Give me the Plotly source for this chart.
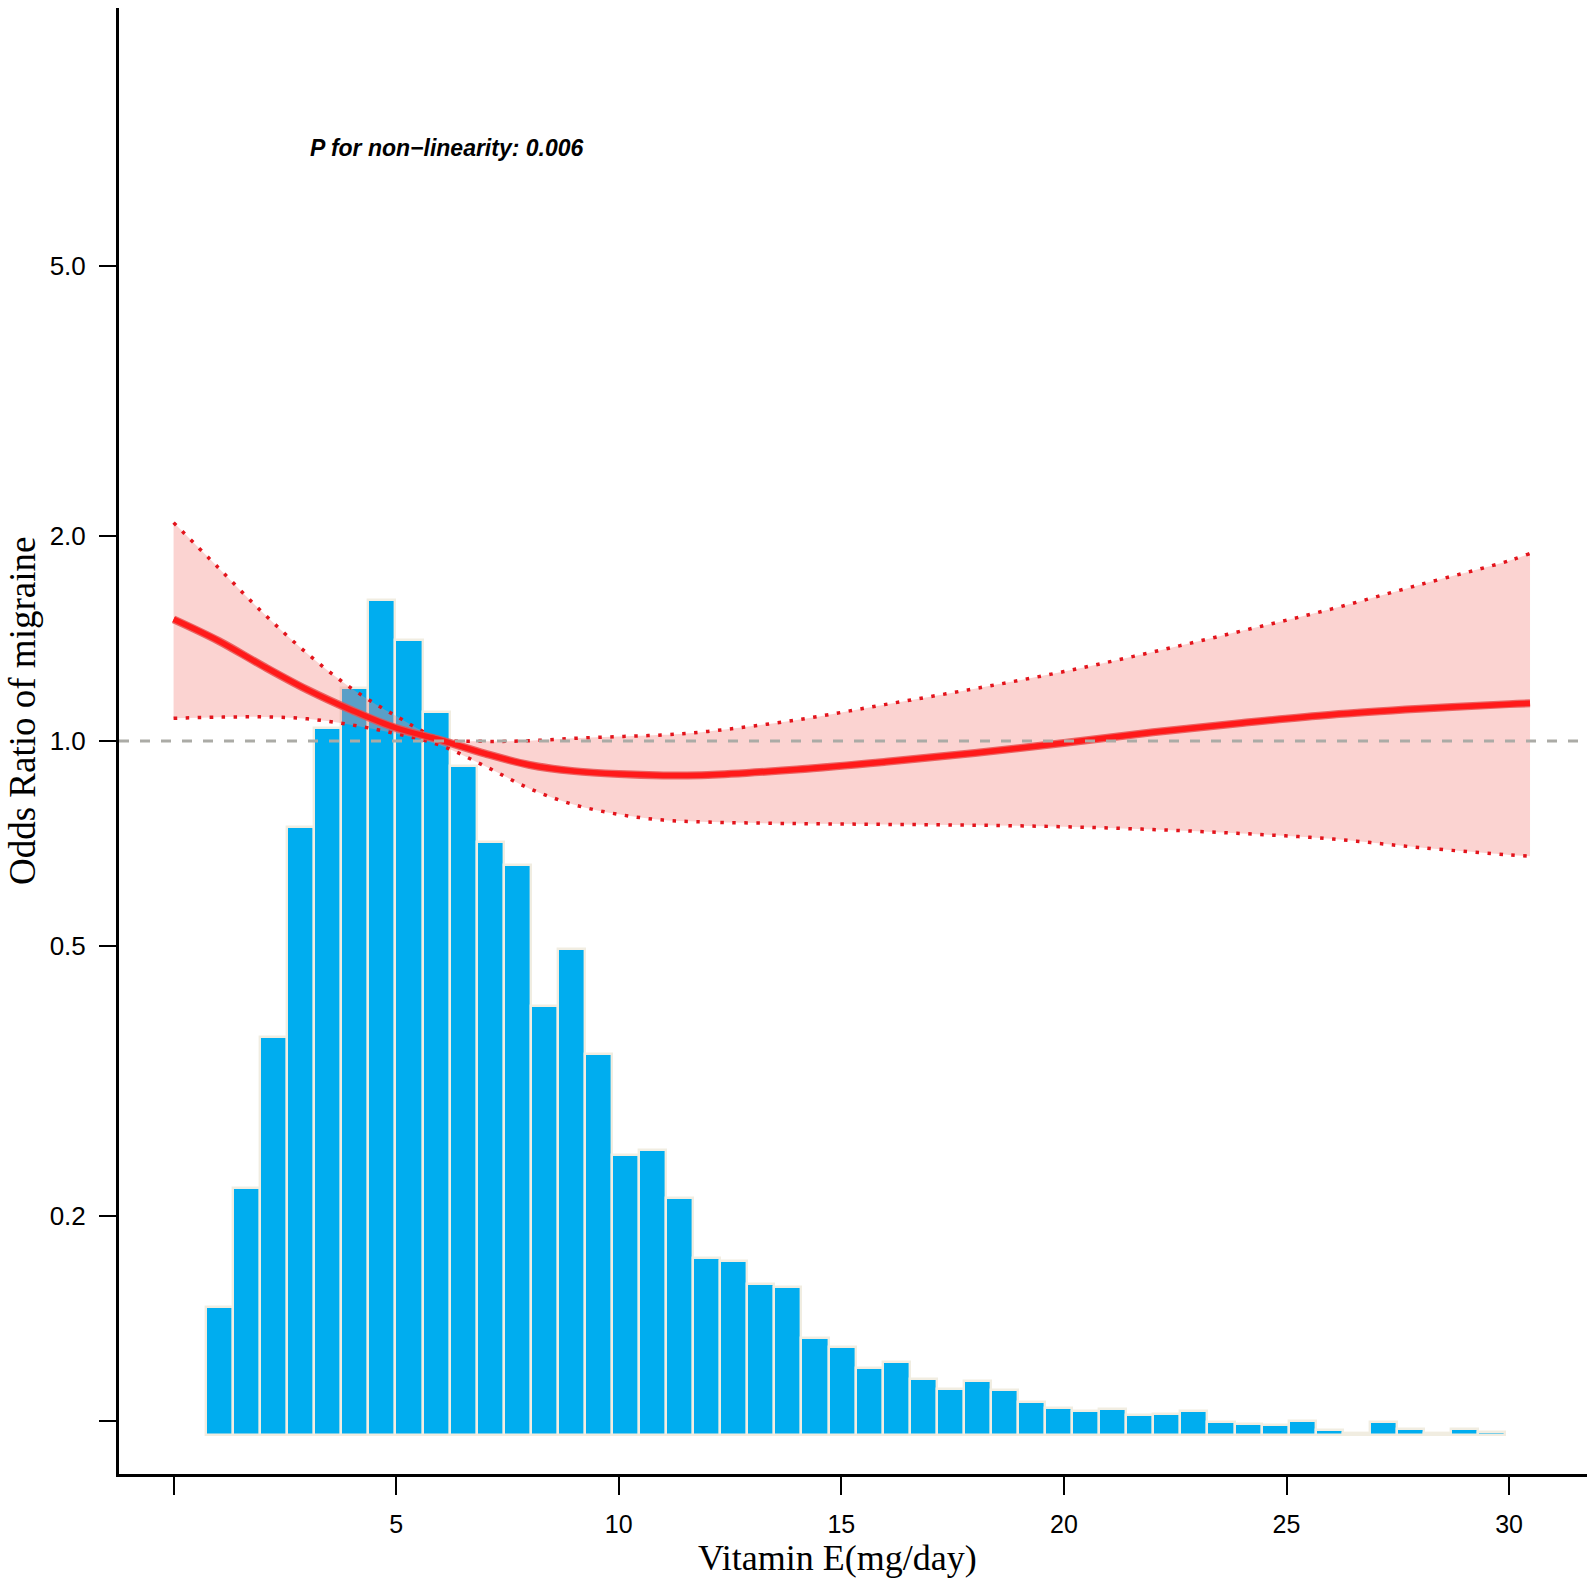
import plotly.graph_objects as go

# ---------------- data ----------------
# restricted cubic spline estimate (odds ratio) and 95% CI
curve_x = [0, 1, 2, 3, 4, 5, 6, 7, 8, 9, 10, 11, 12, 14, 16, 18, 20, 22, 24, 26, 28, 30, 30.47]
or_est = [1.51, 1.405, 1.29, 1.19, 1.11, 1.045, 1.003, 0.958, 0.922, 0.903, 0.894, 0.890, 0.891,
          0.908, 0.932, 0.960, 0.993, 1.030, 1.063, 1.093, 1.115, 1.133, 1.136]
ci_upper = [2.095, 1.80, 1.545, 1.345, 1.195, 1.088, 1.008, 0.999, 1.001, 1.009, 1.015, 1.021, 1.033,
            1.074, 1.132, 1.194, 1.265, 1.352, 1.452, 1.563, 1.698, 1.841, 1.888]
ci_lower = [1.080, 1.084, 1.085, 1.078, 1.056, 1.025, 0.985, 0.918, 0.851, 0.806, 0.780, 0.765, 0.760,
            0.756, 0.754, 0.752, 0.748, 0.741, 0.731, 0.718, 0.697, 0.680, 0.677]

# histogram of vitamin E intake (48 bins)
hist_start = 0.728
hist_width = 0.608
hist_counts = [128, 247, 398, 608, 707, 747, 835, 795, 723, 669, 593, 570, 429, 486, 381, 280,
               285, 237, 177, 174, 151, 148, 97, 88, 67, 73, 56, 46, 54, 45, 33, 27,
               24, 26, 20, 21, 24, 13, 11, 10, 14, 5, 2, 13, 6, 2, 6, 3]

x_tickvals = [0, 5, 10, 15, 20, 25, 30]
x_ticktext = ["", "5", "10", "15", "20", "25", "30"]
y_tickvals = [0.1, 0.2, 0.5, 1.0, 2.0, 5.0]
y_ticktext = ["", "0.2", "0.5", "1.0", "2.0", "5.0"]

p_text = "P for non\u2212linearity: 0.006"
x_title = "Vitamin E(mg/day)"
y_title = "Odds Ratio of migraine"
ref_or = 1.0

# ---------------- figure ----------------
W, H = 1595, 1583
L, R, T, B = 119, 8, 8, 109
sans = "Liberation Sans, Arial, Helvetica, sans-serif"
serif = "Liberation Serif, Times New Roman, serif"

fig = go.Figure()

# histogram on the (hidden, linear) base axis so the curves draw above it
bar_centers = [hist_start + hist_width / 2 + i * hist_width for i in range(len(hist_counts))]
fig.add_trace(go.Bar(
    x=bar_centers, y=hist_counts, width=hist_width, yaxis="y",
    marker=dict(color="#00ADEF", line=dict(color="#F1EDE1", width=2.4)),
    showlegend=False, hoverinfo="skip",
))

# CI ribbon
fig.add_trace(go.Scatter(
    x=curve_x, y=ci_lower, mode="lines", yaxis="y2", line=dict(width=0, shape="spline"),
    showlegend=False, hoverinfo="skip",
))
fig.add_trace(go.Scatter(
    x=curve_x, y=ci_upper, mode="lines", yaxis="y2", line=dict(width=0, shape="spline"),
    fill="tonexty", fillcolor="rgba(243,135,130,0.37)",
    showlegend=False, hoverinfo="skip",
))
# dotted CI bounds
for ci in (ci_upper, ci_lower):
    fig.add_trace(go.Scatter(
        x=curve_x, y=ci, mode="lines", yaxis="y2",
        line=dict(color="#E3141C", width=3.5, dash="3.5px,8.5px", shape="spline"),
        showlegend=False, hoverinfo="skip",
    ))
# estimate line
fig.add_trace(go.Scatter(
    x=curve_x, y=or_est, mode="lines", yaxis="y2",
    line=dict(color="rgba(232,80,80,0.85)", width=8, shape="spline"),
    showlegend=False, hoverinfo="skip",
))
fig.add_trace(go.Scatter(
    x=curve_x, y=or_est, mode="lines", yaxis="y2",
    line=dict(color="#FF1A1A", width=5.5, shape="spline"),
    showlegend=False, hoverinfo="skip",
))

fig.add_shape(type="line", xref="paper", yref="y2", x0=0, x1=1, y0=ref_or, y1=ref_or,
              line=dict(color="#ABABA6", width=3, dash="10px,11px"), layer="above")

fig.add_annotation(text="<b><i>" + p_text + "</i></b>", xref="paper", yref="paper",
                   x=(308 - L) / (W - L - R), y=(H - B - 148) / (H - T - B),
                   xanchor="left", yanchor="middle", showarrow=False,
                   font=dict(family=sans, size=23, color="black"))
fig.add_annotation(text=y_title, xref="paper", yref="paper", textangle=-90,
                   x=(22 - L) / (W - L - R), y=(H - B - 711) / (H - T - B),
                   xanchor="center", yanchor="middle", showarrow=False,
                   font=dict(family=serif, size=37, color="black"))
fig.add_annotation(text=x_title, xref="paper", yref="paper",
                   x=(837 - L) / (W - L - R), y=(H - B - 1558) / (H - T - B),
                   xanchor="center", yanchor="middle", showarrow=False,
                   font=dict(family=serif, size=36, color="black"))

fig.update_layout(
    width=W, height=H,
    margin=dict(l=L, r=R, t=T, b=B, pad=0),
    paper_bgcolor="white", plot_bgcolor="white",
    bargap=0,
    xaxis=dict(
        range=[-1.226, 31.75], tickmode="array", tickvals=x_tickvals, ticktext=x_ticktext,
        showgrid=False, zeroline=False, showline=True, linecolor="black", linewidth=3,
        ticks="outside", ticklen=18, tickwidth=2, tickcolor="black",
        tickfont=dict(family=sans, size=25, color="black"), ticklabelstandoff=8,
    ),
    yaxis=dict(range=[-39, 1427], visible=False, showgrid=False, zeroline=False),
    yaxis2=dict(
        overlaying="y", side="left",
        type="log", range=[-1.078, 1.078], tickmode="array", tickvals=y_tickvals, ticktext=y_ticktext,
        showgrid=False, zeroline=False, showline=True, linecolor="black", linewidth=3,
        ticks="outside", ticklen=17, tickwidth=2, tickcolor="black",
        tickfont=dict(family=sans, size=26, color="black"), ticklabelstandoff=8,
    ),
)

fig.write_html("out.html", config={"displayModeBar": False},
               post_script="document.body.style.margin='0';")
